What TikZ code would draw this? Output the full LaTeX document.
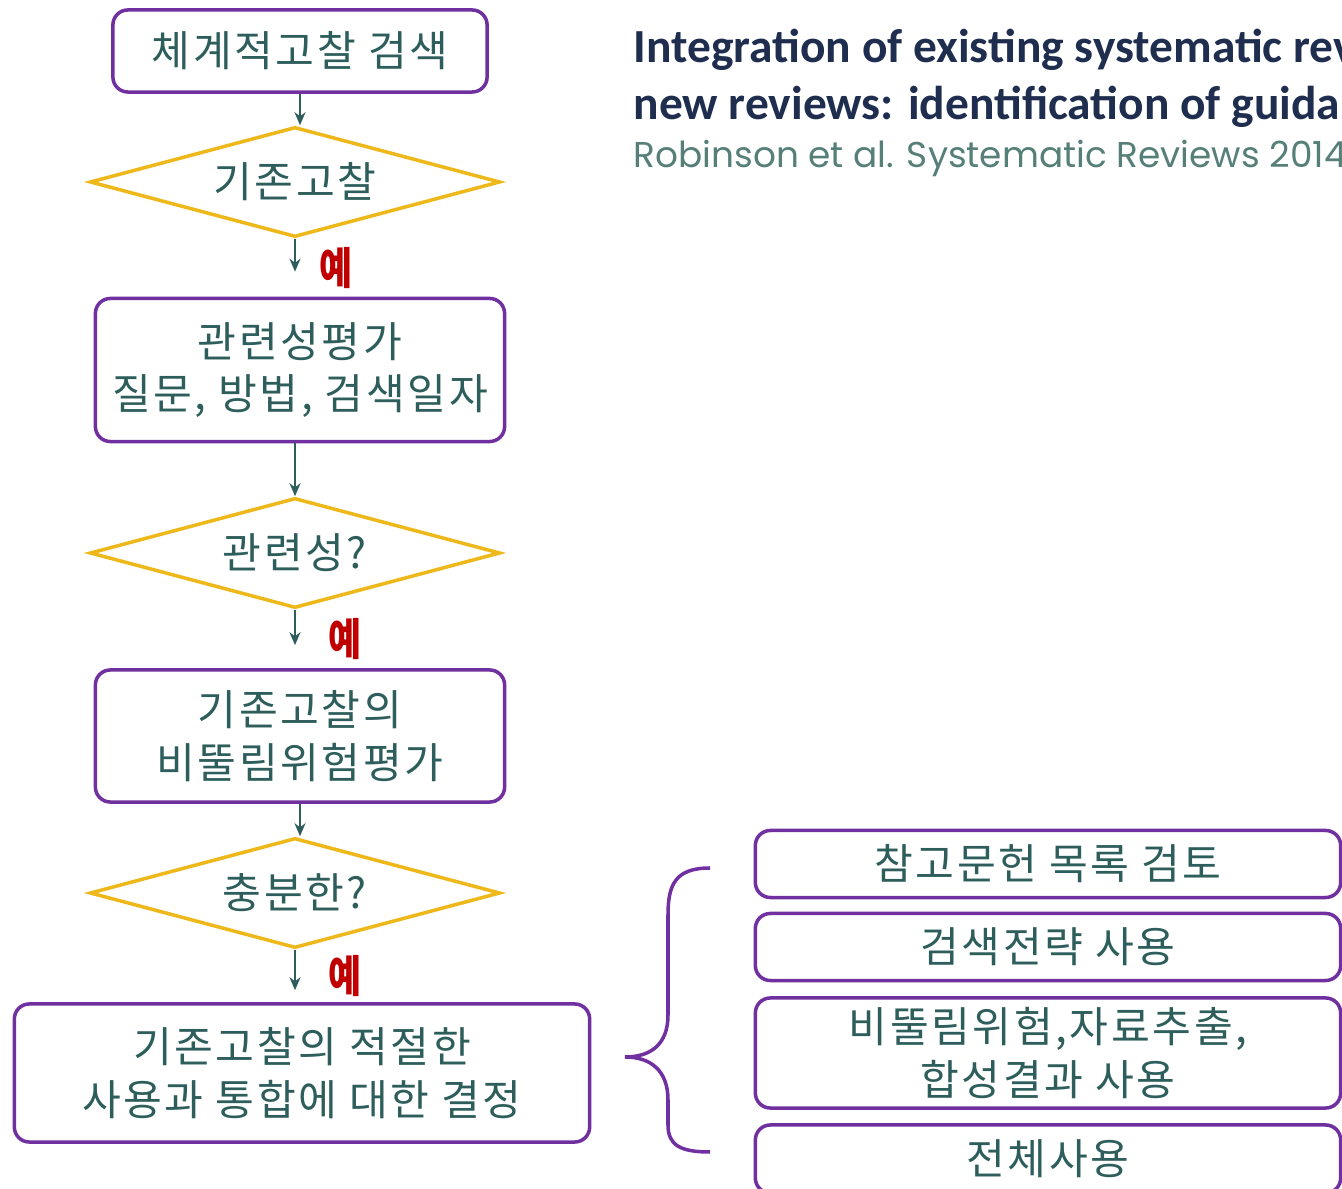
\documentclass[tikz,border=0pt]{standalone}
\usepackage{fontspec}
\setmainfont{Carlito}
\newfontfamily\kr[LetterSpace=6]{Noto Sans CJK KR}
\newfontfamily\reffont{Poppins}
\usetikzlibrary{shapes.geometric,arrows.meta}
\definecolor{boxpurple}{HTML}{7030A0}
\definecolor{diagold}{HTML}{EFB81A}
\definecolor{krteal}{HTML}{2E5E5C}
\definecolor{yesred}{HTML}{C00000}
\definecolor{titlenavy}{HTML}{1F2D4E}
\definecolor{refteal}{HTML}{557F78}
\begin{document}
\begin{tikzpicture}[x=0.01cm,y=-0.01cm,
    box/.style={draw=boxpurple, line width=1pt, rounded corners=0.15cm, text=krteal, align=center, inner sep=0pt, font=\kr\fontsize{12pt}{15pt}\selectfont},
    decision/.style={diamond, draw=diagold, line width=1pt, aspect=3.7, minimum width=4.1cm, minimum height=1.1cm, inner sep=0pt, text=krteal, font=\kr\fontsize{12pt}{15pt}\selectfont},
    yes/.style={text=yesred, inner sep=0pt, transform shape, xscale=0.82, font=\kr\bfseries\fontsize{12.5pt}{15pt}\selectfont},
    flow/.style={draw=krteal, line width=0.8pt, ->, >={Stealth[length=1.3mm,width=1.1mm]}}]
  \useasboundingbox (0,0) rectangle (1342,1189);
  \clip (0,0) rectangle (1342,1189);

  \node[box, minimum width=3.74cm, minimum height=0.82cm] (search) at (300,51) {체계적고찰 검색};
  \node[decision] (existing) at (295,182) {기존고찰};
  \node[box, minimum width=4.09cm, minimum height=1.43cm] (relevance) at (300,370) {관련성평가\\질문, 방법, 검색일자};
  \node[decision] (relevant) at (295,553) {관련성?};
  \node[box, minimum width=4.09cm, minimum height=1.32cm] (rob) at (300,736) {기존고찰의\\비뚤림위험평가};
  \node[decision] (enough) at (295,893) {충분한?};
  \node[box, minimum width=5.75cm, minimum height=1.38cm] (decide) at (302,1073) {기존고찰의 적절한\\사용과 통합에 대한 결정};

  \node[box, minimum width=5.85cm, minimum height=0.67cm] (refs) at (1048,864) {참고문헌 목록 검토};
  \node[box, minimum width=5.85cm, minimum height=0.67cm] (strategy) at (1048,947) {검색전략 사용};
  \node[box, minimum width=5.85cm, minimum height=1.10cm] (extract) at (1048,1053) {비뚤림위험,자료추출,\\합성결과 사용};
  \node[box, minimum width=5.85cm, minimum height=0.68cm] (whole) at (1048,1159) {전체사용};

  \draw[flow] (search.south) -- (search.south |- existing.north);
  \draw[flow, shorten >=0.25cm] (existing.south) -- (existing.south |- relevance.north) node[yes, midway, right=0.28cm] {예};
  \draw[flow] (relevance.south -| relevant.north) -- (relevant.north);
  \draw[flow, shorten >=0.23cm] (relevant.south) -- (relevant.south |- rob.north) node[yes, midway, right=0.39cm] {예};
  \draw[flow] (rob.south) -- (rob.south |- enough.north);
  \draw[flow, shorten >=0.12cm] (enough.south) -- (enough.south |- decide.north) node[yes, midway, right=0.39cm] {예};

  \coordinate (bracetip) at (625,1057);
  \draw[boxpurple, line width=1pt] (710,868) .. controls (675,868) and (668,885) .. (668,915) -- (668,1015)
    .. controls (668,1045) and (650,1057) .. (bracetip)
    .. controls (650,1057) and (668,1070) .. (668,1100) -- (668,1125)
    .. controls (668,1145) and (680,1152) .. (710,1152);

  \node[anchor=base west, inner sep=0pt, text=titlenavy, font=\bfseries\fontsize{13.5pt}{16pt}\selectfont] (title1) at (633,63) {Integration of existing systematic rev};
  \node[anchor=base west, inner sep=0pt, text=titlenavy, font=\bfseries\fontsize{13.5pt}{16pt}\selectfont] (title2) at (633,120) {new reviews: identification of guida};
  \node[anchor=base west, inner sep=0pt, text=refteal, font=\reffont\fontsize{10.2pt}{12pt}\selectfont] (source) at (633,168) {Robinson et al. Systematic Reviews 2014};
\end{tikzpicture}
\end{document}
